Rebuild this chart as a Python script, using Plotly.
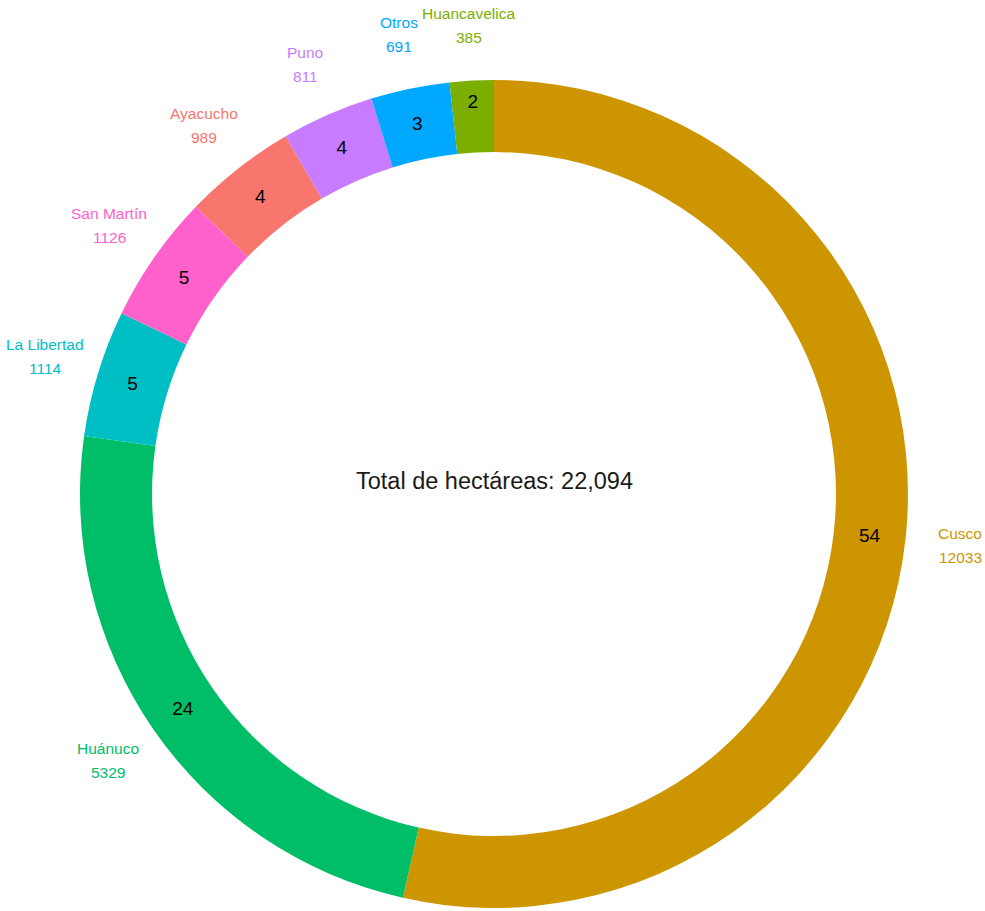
import math
import plotly.graph_objects as go

# Hectares by region, in drawing order (clockwise from 12 o'clock)
regions = ["Cusco", "Huánuco", "La Libertad", "San Martín", "Ayacucho", "Puno", "Otros", "Huancavelica"]
hectares = [12033, 5329, 1114, 1126, 989, 811, 691, 385]
colors = ["#CD9600", "#00BE67", "#00BFC4", "#FF61CC", "#F8766D", "#C77CFF", "#00A9FF", "#7CAE00"]
center_label = "Total de hectáreas: 22,094"

W, H = 985, 911
CX, CY = 494, 494          # ring centre in pixels (from top-left)
R_OUT = 414                # outer radius in pixels
LABEL_R = 469              # radius at which the region labels sit

total = sum(hectares)
pct_text = [str(round(v / total * 100)) for v in hectares]

dom_x = [(CX - R_OUT) / W, (CX + R_OUT) / W]
dom_y = [(H - CY - R_OUT) / H, (H - CY + R_OUT) / H]

FONT = "Arial, Liberation Sans, sans-serif"

fig = go.Figure(
    go.Pie(
        labels=regions,
        values=hectares,
        text=pct_text,
        textinfo="text",
        textposition="inside",
        insidetextorientation="horizontal",
        insidetextfont=dict(family=FONT, size=19, color="#000000"),
        sort=False,
        direction="clockwise",
        hole=0.826,
        marker=dict(colors=colors, line=dict(width=0)),
        domain=dict(x=dom_x, y=dom_y),
        showlegend=False,
        hoverinfo="label+value+percent",
    )
)

# Region name and hectares, placed outside each slice at its mid-angle
annotations = []
cum = 0
for name, val, col in zip(regions, hectares, colors):
    mid = (cum + val / 2) / total
    cum += val
    ang = 2 * math.pi * mid
    px = CX + LABEL_R * math.sin(ang)
    py = CY - LABEL_R * math.cos(ang)
    ax, ay = px / W, 1 - py / H
    for txt, shift in ((name, 12), (str(val), -12)):
        annotations.append(dict(
            x=ax, y=ay, xref="paper", yref="paper", text=txt,
            showarrow=False, xanchor="center", yanchor="middle", yshift=shift,
            font=dict(family=FONT, size=15.5, color=col),
        ))

annotations.append(dict(
    x=CX / W, y=1 - 481 / H, xref="paper", yref="paper", text=center_label,
    showarrow=False, xanchor="center", yanchor="middle",
    font=dict(family=FONT, size=23.5, color="#1a1a1a"),
))

fig.update_layout(
    width=W, height=H,
    margin=dict(l=0, r=0, t=0, b=0),
    paper_bgcolor="white", plot_bgcolor="white",
    annotations=annotations,
)

fig.write_html("out.html")
